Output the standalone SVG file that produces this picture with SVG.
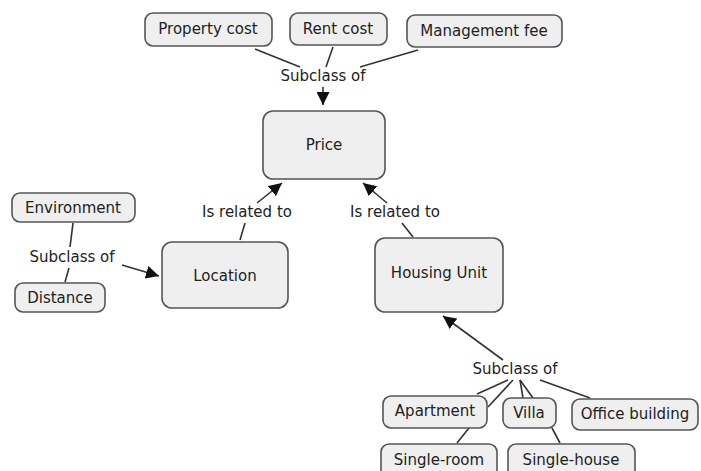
<svg xmlns="http://www.w3.org/2000/svg" width="701" height="471" viewBox="0 0 701 471">
<defs>
<marker id="arr" viewBox="0 0 12 12" refX="12" refY="6" markerWidth="13" markerHeight="13" markerUnits="userSpaceOnUse" orient="auto">
<path d="M0,0 L12,6 L0,12 z" fill="#111"/>
</marker>
<style>
.n rect{fill:#efefef;stroke:#555;stroke-width:1.6}
text{font-family:"DejaVu Sans",Verdana,sans-serif;font-size:15px;fill:#222;text-anchor:middle;dominant-baseline:central}
.c line{stroke:#333;stroke-width:1.6}
.c .a{marker-end:url(#arr)}
</style>
</defs>
<rect width="701" height="471" fill="#fff"/>
<g class="c">
<line x1="255" y1="49" x2="300" y2="67"/>
<line x1="333" y1="47" x2="326" y2="67"/>
<line x1="418" y1="50" x2="360" y2="67"/>
<line class="a" x1="323" y1="87" x2="323" y2="105"/>
<line x1="240" y1="240" x2="245" y2="223"/>
<line class="a" x1="257" y1="203" x2="282" y2="183"/>
<line x1="413" y1="237" x2="402" y2="223"/>
<line class="a" x1="387" y1="203" x2="363" y2="183"/>
<line x1="73" y1="223" x2="70" y2="247"/>
<line x1="69" y1="268" x2="65" y2="282"/>
<line class="a" x1="122" y1="265" x2="159" y2="276"/>
<line class="a" x1="503" y1="360" x2="443" y2="316"/>
<line x1="508" y1="380" x2="477" y2="394"/>
<line x1="513" y1="380" x2="488" y2="407"/>
<line x1="520" y1="380" x2="523" y2="398"/>
<line x1="520" y1="380" x2="533" y2="398"/>
<line x1="540" y1="380" x2="590" y2="398"/>
<line x1="469" y1="428" x2="457" y2="443"/>
<line x1="552" y1="428" x2="560" y2="443"/>
</g>
<g id="lbl-top"><text x="323" y="76">Subclass of</text></g>
<g id="lbl-left"><text x="247" y="212">Is related to</text></g>
<g id="lbl-right"><text x="395" y="212">Is related to</text></g>
<g id="lbl-env"><text x="72" y="257">Subclass of</text></g>
<g id="lbl-bottom"><text x="515" y="369">Subclass of</text></g>
<g id="property-cost" class="n"><rect x="145" y="13" width="127" height="33" rx="8"/><text x="208" y="29">Property cost</text></g>
<g id="rent-cost" class="n"><rect x="290" y="13" width="97" height="32" rx="8"/><text x="338" y="29">Rent cost</text></g>
<g id="management-fee" class="n"><rect x="407" y="15" width="155" height="32" rx="8"/><text x="484" y="31">Management fee</text></g>
<g id="price" class="n"><rect x="263" y="111" width="122" height="68" rx="10"/><text x="324" y="145">Price</text></g>
<g id="location" class="n"><rect x="162" y="242" width="126" height="66" rx="10"/><text x="225" y="276">Location</text></g>
<g id="housing-unit" class="n"><rect x="375" y="238" width="128" height="74" rx="10"/><text x="439" y="273">Housing Unit</text></g>
<g id="environment" class="n"><rect x="12" y="193" width="123" height="29" rx="8"/><text x="73" y="208">Environment</text></g>
<g id="distance" class="n"><rect x="15" y="283" width="90" height="29" rx="8"/><text x="60" y="298">Distance</text></g>
<g id="apartment" class="n"><rect x="383" y="396" width="104" height="32" rx="8"/><text x="435" y="411">Apartment</text></g>
<g id="villa" class="n"><rect x="503" y="398" width="53" height="30" rx="8"/><text x="529" y="413">Villa</text></g>
<g id="office-building" class="n"><rect x="572" y="399" width="126" height="31" rx="8"/><text x="635" y="414">Office building</text></g>
<g id="single-room" class="n"><rect x="381" y="444" width="116" height="35" rx="8"/><text x="439" y="460">Single-room</text></g>
<g id="single-house" class="n"><rect x="508" y="444" width="127" height="35" rx="8"/><text x="571" y="460">Single-house</text></g>
</svg>
